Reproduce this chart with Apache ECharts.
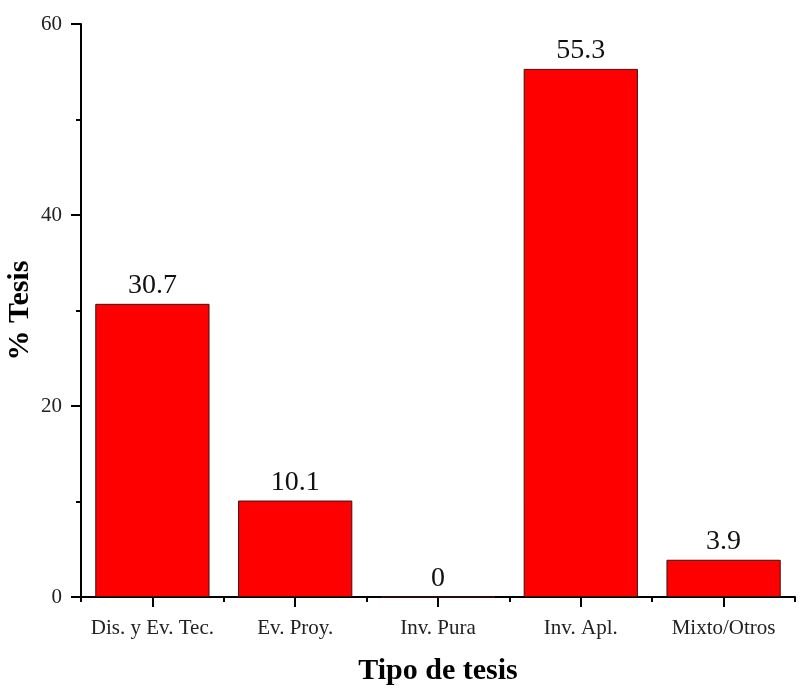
<!DOCTYPE html>
<html>
<head>
<meta charset="utf-8">
<script src="https://cdn.jsdelivr.net/npm/echarts@6/dist/echarts.min.js"></script>
<style>html,body{margin:0;padding:0;background:#fff}#c{width:804px;height:693px}</style>
</head>
<body>
<div id="c"></div>
<script>
var categories = ["Dis. y Ev. Tec.", "Ev. Proy.", "Inv. Pura", "Inv. Apl.", "Mixto/Otros"];
var values = [30.7, 10.1, 0, 55.3, 3.9];
var yTicks = [0, 20, 40, 60];

var chart = echarts.init(document.getElementById('c'));
var serif = '"Liberation Serif", "DejaVu Serif", serif';
chart.setOption({
  animation: false,
  backgroundColor: '#fff',
  grid: { left: 81, right: 9, top: 24, bottom: 96, containLabel: false, outerBoundsMode: 'none' },
  xAxis: [{
    type: 'category',
    data: categories,
    name: 'Tipo de tesis',
    nameLocation: 'middle',
    nameGap: 59,
    nameMoveOverlap: false,
    nameTextStyle: { fontFamily: serif, fontSize: 30, fontWeight: 'bold', color: '#000' },
    axisLine: { show: true, lineStyle: { color: '#000', width: 2 } },
    axisTick: { show: true, alignWithLabel: true, interval: 0, length: 10, lineStyle: { color: '#000', width: 2 } },
    axisLabel: { fontFamily: serif, fontSize: 21, color: '#222', margin: 21, interval: 0, hideOverlap: false },
    splitLine: { show: false }
  }, {
    type: 'category',
    data: categories,
    position: 'bottom',
    axisLine: { show: false },
    axisTick: { show: true, alignWithLabel: false, interval: 0, length: 5, lineStyle: { color: '#000', width: 2 } },
    axisLabel: { show: false, interval: 0 },
    splitLine: { show: false }
  }],
  yAxis: {
    type: 'value',
    min: 0, max: 60, interval: 20,
    name: '% Tesis',
    nameLocation: 'middle',
    nameGap: 46,
    nameMoveOverlap: false,
    nameTextStyle: { fontFamily: serif, fontSize: 30, fontWeight: 'bold', color: '#000' },
    axisLine: { show: true, lineStyle: { color: '#000', width: 2 } },
    axisTick: { show: true, length: 10, lineStyle: { color: '#000', width: 2 } },
    minorTick: { show: true, splitNumber: 2, length: 5, lineStyle: { color: '#000', width: 2 } },
    axisLabel: {
      fontFamily: serif, fontSize: 21, color: '#222', margin: 19,
      formatter: function (v) { return yTicks.indexOf(v) >= 0 ? String(v) : ''; }
    },
    splitLine: { show: false }
  },
  series: [{
    type: 'bar',
    data: values,
    barWidth: '80%',
    itemStyle: { color: '#ff0000', borderColor: '#3a1010', borderWidth: 1 },
    label: {
      show: true, position: 'top', distance: 4,
      fontFamily: serif, fontSize: 28, color: '#111',
      formatter: function (p) { return String(p.value); }
    }
  }]
});
</script>
</body>
</html>
